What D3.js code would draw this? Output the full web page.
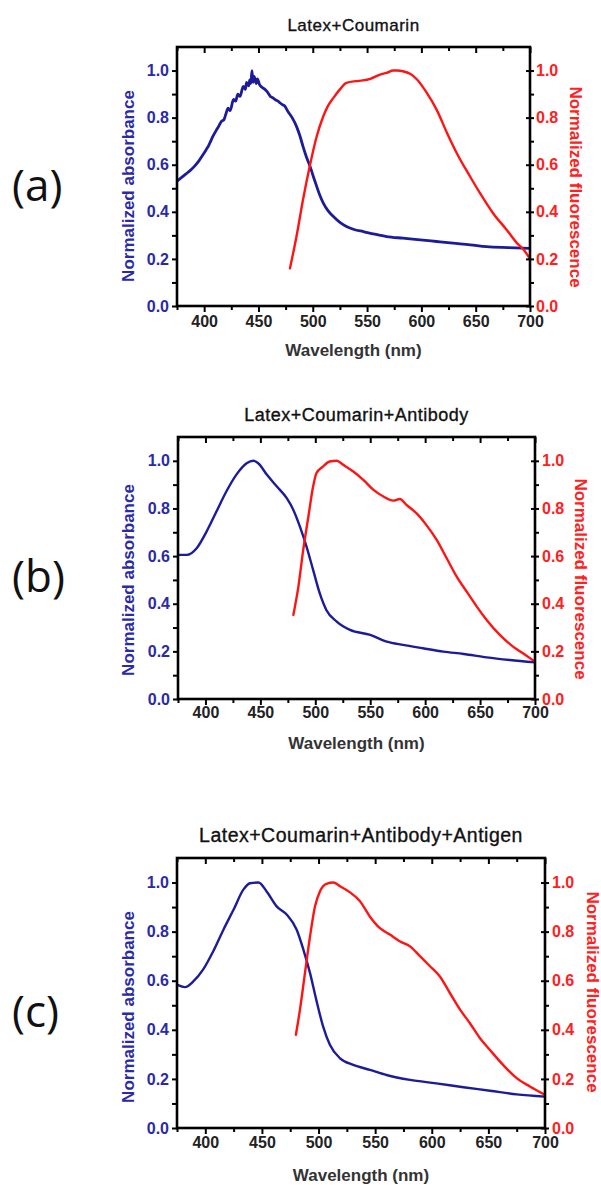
<!DOCTYPE html>
<html>
<head>
<meta charset="utf-8">
<script src="https://cdn.jsdelivr.net/npm/d3@7"></script>
<style>
  html, body { margin: 0; padding: 0; background: #fff; }
  svg { display: block; }
</style>
</head>
<body>
<svg id="chart" width="601" height="1185"></svg>
<script>
// ---------------- DATA ----------------
const titles = ["Latex+Coumarin", "Latex+Coumarin+Antibody", "Latex+Coumarin+Antibody+Antigen"];
const panelLetters = ["(a)", "(b)", "(c)"];
const xLabel = "Wavelength (nm)";
const yLabelLeft = "Normalized absorbance";
const yLabelRight = "Normalized fluorescence";
const xTickValues = [400, 450, 500, 550, 600, 650, 700];
const xMinorTickValues = [375, 425, 475, 525, 575, 625, 675];
const yTickValues = [0.0, 0.2, 0.4, 0.6, 0.8, 1.0];
const yMinorTickValues = [0.1, 0.3, 0.5, 0.7, 0.9];
const xDomain = [375, 700];
const yDomain = [0, 1.1];

// Panel (a)
const wlAbsA = [375,379,383,387,391,395,399,402,404,406,408,411,413,416,418,420,422,424,427,429,431,433,436,438,439,441,442,443,444,445,446,448,449,451,453,456,458,461,463,466,468,470,472,474,477,481,485,488,491,494,497.5,500.5,503.6,506.5,509.7,514,519,525,531,538,546.6,557,568,583,599,614,629,645,660,680,700];
const absA   = [0.53,0.545,0.56,0.575,0.593,0.615,0.643,0.665,0.68,0.70,0.72,0.745,0.76,0.785,0.79,0.815,0.84,0.83,0.877,0.87,0.90,0.89,0.933,0.92,0.95,0.935,0.96,0.945,1.0,0.95,0.975,0.945,0.965,0.94,0.93,0.92,0.91,0.89,0.885,0.875,0.87,0.862,0.855,0.85,0.827,0.80,0.763,0.725,0.678,0.635,0.593,0.55,0.508,0.47,0.437,0.405,0.38,0.355,0.338,0.325,0.316,0.305,0.295,0.288,0.281,0.274,0.267,0.26,0.252,0.248,0.245];
const wlFluA = [479,485,491,497.5,503.6,509.7,514,519,525,531,540,546,553,562,568,574,578,583,590,596,605,614,623.6,632.5,644.8,654,666,678.6,688,694,700];
const fluA   = [0.16,0.295,0.451,0.60,0.72,0.806,0.85,0.884,0.92,0.948,0.955,0.958,0.965,0.983,0.99,1.0,1.0,0.997,0.985,0.962,0.905,0.834,0.735,0.65,0.55,0.479,0.394,0.323,0.267,0.24,0.20];

// Panel (b)
const wlAbsB = [375,383,392,401,410,419,428,437.5,443.6,448,456,465,474,480,486,492,498,504,510,519.5,531.6,550,565,580,598,616.6,635,656,677,700];
const absB   = [0.605,0.605,0.633,0.703,0.787,0.871,0.941,0.99,1.0,0.99,0.941,0.892,0.843,0.794,0.724,0.64,0.542,0.444,0.374,0.325,0.29,0.269,0.241,0.227,0.213,0.199,0.189,0.175,0.164,0.154];
const wlFluB = [480,484.6,489,493.7,498,501,507,513,519.5,525.5,534.6,543.7,553,562,571,577,583,592,601,610.5,619.6,628.7,637.8,647,656,668,680,689,700];
const fluB   = [0.353,0.472,0.626,0.766,0.892,0.948,0.976,0.997,1.0,0.983,0.955,0.92,0.878,0.85,0.833,0.84,0.815,0.78,0.731,0.668,0.591,0.514,0.451,0.388,0.332,0.269,0.22,0.192,0.157];

// Panel (c)
const wlAbsC = [375,382,389.4,398,407,416,425,433.6,439.5,447,454,463,472,480.7,486.6,492.5,498,504,510,519,530.7,545.4,560,580.8,604,628,651.4,675,700];
const absC   = [0.584,0.574,0.597,0.645,0.72,0.808,0.89,0.971,0.997,1.0,0.965,0.903,0.869,0.808,0.727,0.631,0.522,0.414,0.339,0.284,0.257,0.237,0.216,0.196,0.182,0.166,0.152,0.137,0.128];
const wlFluC = [480,483.6,488,492.5,496.9,501.3,507,513,519,527.8,536.6,545.4,554,563,572,580.8,589.6,598.4,607,616,625,633.7,642.6,651.4,663,675,686.7,700];
const fluC   = [0.38,0.482,0.631,0.781,0.903,0.965,0.995,1.0,0.985,0.96,0.924,0.861,0.815,0.788,0.76,0.74,0.70,0.659,0.618,0.55,0.482,0.427,0.366,0.318,0.257,0.203,0.169,0.135];

// ---------------- LAYOUT / STYLE ----------------
const blueLine = "#1c1c9a";
const blueText = "#2a2aa8";
const redLine = "#ff1414";
const redText = "#ff2020";

const layouts = [
  {left:177, right:530, top:47,  bottom:306,  titleY:25,  titleSize:17,   xTickPad:4, xLabelY:350,  lLabX:128, lLabY:186,  rLabX:575, rLabY:187,  letterY:184, rPad:2},
  {left:178, right:535, top:437, bottom:699,  titleY:415, titleSize:18,   xTickPad:2, xLabelY:743,  lLabX:128, lLabY:580,  rLabX:580, rLabY:579,  letterY:575, rPad:3},
  {left:177, right:545, top:858, bottom:1128, titleY:835, titleSize:19.5, xTickPad:3, xLabelY:1175, lLabX:128, lLabY:1007, rLabX:592, rLabY:992,  letterY:1010, rPad:3}
];
const absWl = [wlAbsA, wlAbsB, wlAbsC];
const absVals = [absA, absB, absC];
const fluWl = [wlFluA, wlFluB, wlFluC];
const fluVals = [fluA, fluB, fluC];

const svg = d3.select("#chart");
svg.append("rect").attr("width", 601).attr("height", 1185).attr("fill", "#fff");

const fontAxis = "'Liberation Sans', Arial, sans-serif";

layouts.forEach((L, i) => {
  const x = d3.scaleLinear().domain(xDomain).range([L.left, L.right]);
  const y = d3.scaleLinear().domain(yDomain).range([L.bottom, L.top]);
  const g = svg.append("g");

  const clipId = "clip" + i;
  g.append("clipPath").attr("id", clipId).append("rect")
    .attr("x", L.left).attr("y", L.top).attr("width", L.right - L.left).attr("height", L.bottom - L.top);

  // curves
  const line = d3.line().x(d => x(d[0])).y(d => y(d[1])).curve(d3.curveMonotoneX);
  const absPts = absWl[i].map((w, k) => [w, absVals[i][k]]);
  const fluPts = fluWl[i].map((w, k) => [w, fluVals[i][k]]);
  g.append("path").datum(absPts).attr("d", line).attr("fill", "none")
    .attr("stroke", blueLine).attr("stroke-width", i === 0 ? 2.8 : 2.4)
    .attr("stroke-linejoin", "round").attr("clip-path", `url(#${clipId})`);
  g.append("path").datum(fluPts).attr("d", line).attr("fill", "none")
    .attr("stroke", redLine).attr("stroke-width", 2.4)
    .attr("stroke-linejoin", "round").attr("stroke-linecap", "round").attr("clip-path", `url(#${clipId})`);

  // bottom axis (major + minor)
  const xb = g.append("g").attr("transform", `translate(0,${L.bottom})`)
    .call(d3.axisBottom(x).tickValues(xTickValues).tickSize(6).tickPadding(L.xTickPad).tickFormat(d3.format("d")));
  g.append("g").attr("transform", `translate(0,${L.bottom})`)
    .call(d3.axisBottom(x).tickValues(xMinorTickValues).tickSize(4).tickFormat(""));
  // top axis (inward)
  g.append("g").attr("transform", `translate(0,${L.top})`)
    .call(d3.axisTop(x).tickValues(xTickValues).tickSize(-6).tickFormat(""));
  g.append("g").attr("transform", `translate(0,${L.top})`)
    .call(d3.axisTop(x).tickValues(xMinorTickValues).tickSize(-4).tickFormat(""));

  // left axis
  const yl = g.append("g").attr("transform", `translate(${L.left},0)`)
    .call(d3.axisLeft(y).tickValues(yTickValues).tickSize(5).tickPadding(3).tickFormat(d3.format(".1f")));
  g.append("g").attr("transform", `translate(${L.left},0)`)
    .call(d3.axisLeft(y).tickValues(yMinorTickValues).tickSize(5).tickFormat(""));
  // right axis
  const yr = g.append("g").attr("transform", `translate(${L.right},0)`)
    .call(d3.axisRight(y).tickValues(yTickValues).tickSize(4).tickPadding(L.rPad).tickFormat(d3.format(".1f")));
  g.append("g").attr("transform", `translate(${L.right},0)`)
    .call(d3.axisRight(y).tickValues(yMinorTickValues).tickSize(4).tickFormat(""));

  // style axes
  g.selectAll(".domain").remove();
  g.selectAll(".tick line").attr("stroke", "#000").attr("stroke-width", 2);
  yr.selectAll(".tick line").attr("x1", -4);
  g.selectAll(".tick text").attr("font-family", fontAxis).attr("font-weight", "bold").attr("font-size", 16);
  xb.selectAll(".tick text").attr("fill", "#222");
  yl.selectAll(".tick text").attr("fill", blueText);
  yr.selectAll(".tick text").attr("fill", redText);

  // frame
  g.append("rect").attr("x", L.left).attr("y", L.top)
    .attr("width", L.right - L.left).attr("height", L.bottom - L.top)
    .attr("fill", "none").attr("stroke", "#000").attr("stroke-width", 2.6);

  // title
  g.append("text").attr("x", (L.left + L.right) / 2).attr("y", L.titleY)
    .attr("text-anchor", "middle").attr("dominant-baseline", "central")
    .attr("font-family", fontAxis).attr("font-size", L.titleSize).attr("letter-spacing", 0.5)
    .attr("fill", "#111").attr("stroke", "#111").attr("stroke-width", 0.35).text(titles[i]);

  // x label
  g.append("text").attr("x", (L.left + L.right) / 2).attr("y", L.xLabelY)
    .attr("text-anchor", "middle").attr("dominant-baseline", "central")
    .attr("font-family", fontAxis).attr("font-weight", "bold").attr("font-size", 17)
    .attr("fill", "#333").text(xLabel);

  // left y label
  g.append("text").attr("transform", `translate(${L.lLabX},${L.lLabY}) rotate(-90)`)
    .attr("text-anchor", "middle").attr("dominant-baseline", "central")
    .attr("font-family", fontAxis).attr("font-weight", "bold").attr("font-size", 17)
    .attr("fill", blueText).text(yLabelLeft);

  // right y label
  g.append("text").attr("transform", `translate(${L.rLabX},${L.rLabY}) rotate(90)`)
    .attr("text-anchor", "middle").attr("dominant-baseline", "central")
    .attr("font-family", fontAxis).attr("font-weight", "bold").attr("font-size", 17)
    .attr("fill", redText).text(yLabelRight);

  // panel letter
  g.append("text").attr("x", 12).attr("y", L.letterY)
    .attr("dominant-baseline", "central")
    .attr("font-family", "'Open Sans', 'Noto Sans', sans-serif").attr("font-size", 44)
    .attr("fill", "#111").text(panelLetters[i]);
});
</script>
</body>
</html>
